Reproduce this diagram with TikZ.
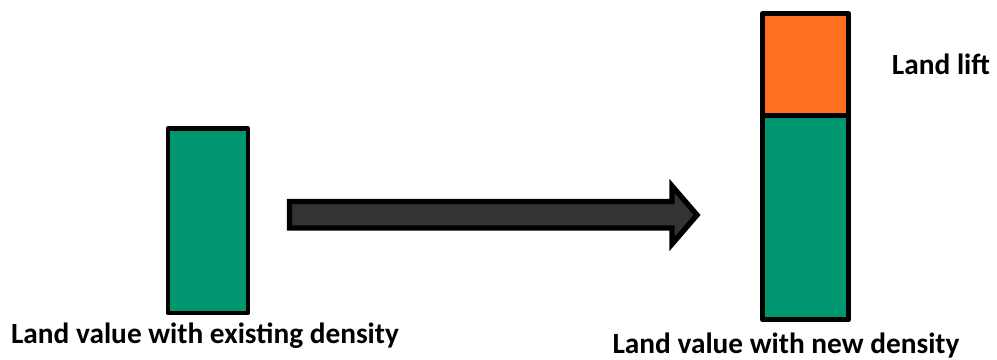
\documentclass[tikz,border=0pt]{standalone}
\usepackage{fontspec}
\setmainfont{Carlito}
\begin{document}
\begin{tikzpicture}[x=0.75pt,y=-0.75pt,
  barbox/.style={draw=black, line width=4pt, line join=round, inner sep=0pt, anchor=north west},
  lbl/.style={font=\bfseries\fontsize{22}{24}\selectfont, inner sep=0pt, anchor=base}]
\definecolor{bargreen}{RGB}{0,150,112}
\definecolor{barorange}{RGB}{255,111,32}
\definecolor{arrowgray}{RGB}{51,51,51}
\useasboundingbox (0,0) rectangle (997,360);
% left bar
\node[barbox, line width=3.6pt, fill=bargreen, minimum width=60pt, minimum height=138pt] (lbar) at (165.5,126.5) {};
% right bar
\node[barbox, fill=bargreen, minimum width=64.5pt, minimum height=153pt] (rgreen) at (760,113) {};
\node[barbox, fill=barorange, minimum width=64.5pt, minimum height=76.5pt] (rorange) at (760,11) {};
% arrow
\draw[line width=4pt, fill=arrowgray, line join=miter]
  (289.5,201.5) -- (672,201.5) -- (672,186) -- (697,215) -- (672,244) -- (672,228) -- (289.5,228) -- cycle;
% labels
\node[lbl] (llift) at (941,75) {Land lift};
\node[lbl] (lleft) at (205,343) {Land value with existing density};
\node[lbl] (lright) at (786,353) {Land value with new density};
\end{tikzpicture}
\end{document}
